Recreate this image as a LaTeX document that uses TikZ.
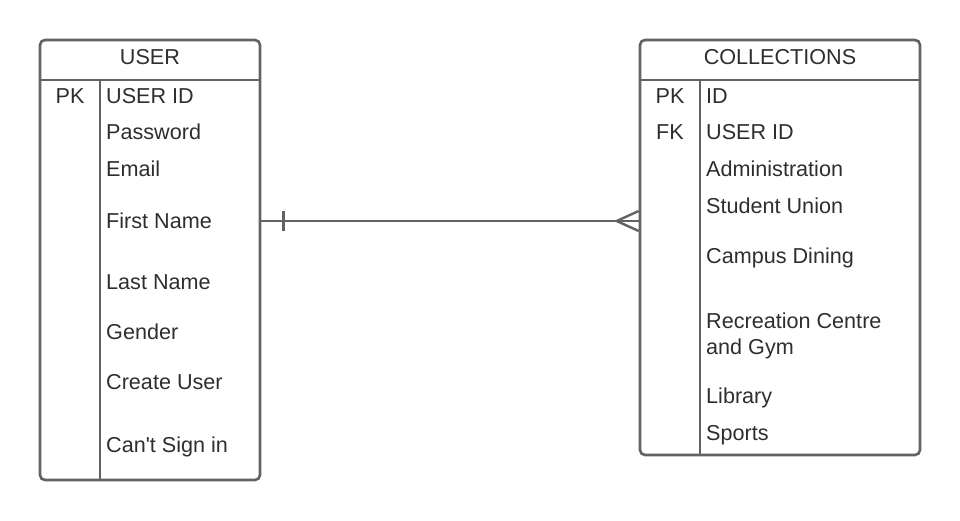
\documentclass[tikz,border=0pt]{standalone}
\usepackage{fontspec}
\setmainfont{Liberation Sans}
\definecolor{edge}{HTML}{626262}
\definecolor{ink}{HTML}{2E2E2E}

\begin{document}
\begin{tikzpicture}[x=1pt, y=-1pt,
	every node/.style={font=\fontsize{21.6}{26}\selectfont, text=ink, inner sep=0pt},
	entity/.style={draw=edge, line width=2.6pt, rounded corners=5pt},
	rel/.style={draw=edge, line width=2.4pt},
	attr/.style={anchor=west, text height=15.5pt, text depth=0pt},
	key/.style={text height=15.5pt, text depth=0pt}]
	\useasboundingbox (0,0) rectangle (960,520);
	% tables
	\node[entity, minimum width=220pt, minimum height=440pt] (user) at (150,260) {};
	\node[entity, minimum width=280pt, minimum height=415pt] (coll) at (780,247.5) {};
	\draw[rel] (40,80) -- (260,80);
	\draw[rel] (100,80) -- (100,480);
	\draw[rel] (640,80) -- (920,80);
	\draw[rel] (700,80) -- (700,455);
	\node[key] (usertitle) at (150,57) {USER};
	\node[key] (colltitle) at (780,57) {COLLECTIONS};
	% keys
	\node[key] (ukey) at (70,96) {PK};
	\node[key] (ckey1) at (670,96) {PK};
	\node[key] (ckey2) at (670,132) {FK};
	% attributes
	\foreach \y/\t [count=\i] in {96/USER ID, 132/Password, 169/Email, 221/First Name, 282/Last Name, 332/Gender, 382/Create User, 445/Can\textquotesingle t Sign in}
		\node[attr] (u\i) at (106,\y) {\t};
	\foreach \y/\t [count=\i] in {96/ID, 132/USER ID, 169/Administration, 206/Student Union, 256/Campus Dining, 396/Library, 433/Sports}
		\node[attr] (c\i) at (706,\y) {\t};
	\node[anchor=north west, align=left] (crec) at (706,312.5) {Recreation Centre\\and Gym};
	% one-to-many
	\coordinate (a) at (u4 -| user.east);
	\coordinate (b) at (u4 -| coll.west);
	\draw[rel] (a) -- (b);
	\draw[rel] ([xshift=22pt]a) ++(0,-10) -- ++(0,20);
	\draw[rel] ([xshift=-22pt]b) -- ++(22,-10) ([xshift=-22pt]b) -- ++(22,10);
\end{tikzpicture}
\end{document}
